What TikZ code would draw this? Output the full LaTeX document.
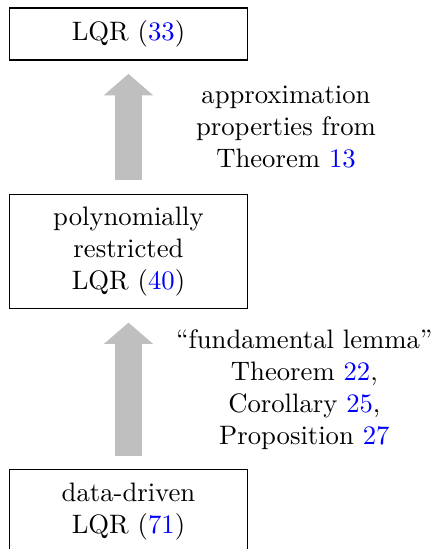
\documentclass[tikz,border=0pt]{standalone}
\usepackage{amsmath}
\usepackage{tikz}
\usetikzlibrary{arrows.meta,shapes,positioning}

\begin{document}
\begin{tikzpicture}[
    box/.style={draw, text width=80pt, align=center, inner sep=4.75pt},
    bigarrow/.style={line width=10pt, lightgray, shorten <=5pt, shorten >=5pt,
      -{Triangle[width=18pt,length=8pt]}},
    note/.style={align=center, text=black}
  ]
  % Definitions
  \pgfmathsetmacro{\W}{5.74}
  \pgfmathsetmacro{\H}{7.23}
  \useasboundingbox (0,0) rectangle (\W,-\H);

  % problems
  \node[box] (lqr) at (1.692,-0.448) {LQR (\textcolor{blue}{33})};
  \node[box, below=1.752cm of lqr] (poly) {polynomially\\ restricted\\
    LQR (\textcolor{blue}{40})};
  \node[box, below=2.107cm of poly] (data) {data-driven\\
    LQR (\textcolor{blue}{71})};

  % arrows and labels
  \draw[bigarrow] (poly) -- node[note, right=17pt] {approximation\\
    properties from\\ Theorem \textcolor{blue}{13}} (lqr);
  \draw[bigarrow] (data) -- node[note, right=9.5pt] {``fundamental lemma''\\
    Theorem \textcolor{blue}{22},\\ Corollary \textcolor{blue}{25},\\
    Proposition \textcolor{blue}{27}} (poly);
\end{tikzpicture}
\end{document}
